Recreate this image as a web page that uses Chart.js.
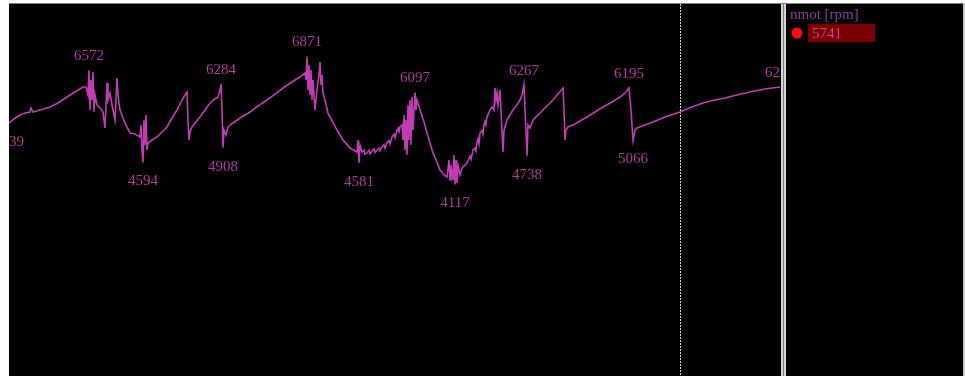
<!DOCTYPE html>
<html>
<head>
<meta charset="utf-8">
<script src="https://cdn.jsdelivr.net/npm/chart.js@4/dist/chart.umd.min.js"></script>
<style>
html,body{margin:0;padding:0;background:#fff;overflow:hidden;}
#wrap{position:absolute;left:0;top:0;width:965px;height:378px;}
</style>
</head>
<body>
<div id="wrap"><canvas id="c" width="965" height="378"></canvas></div>
<script>
// ---- data ----
const seriesName = 'nmot [rpm]';
const cursorValue = 5741;
const cursorTime = 671;
const time = [0,5,11,16,21,22,24,31,41,49,58,66,74,77,79,80,81,82,83,84,85,86,88,91,94,96,98,99,101,103,106,108,109,111,116,121,126,131,132,133,134,135,136,137,138,139,143,148,153,158,163,168,173,176,178,179,180,181,183,187,191,196,201,206,209,211,212,213,214,215,217,219,224,231,241,249,258,266,274,283,291,296,297,298,299,300,301,302,303,304,306,308,310,311,312,313,314,316,319,321,328,334,341,346,348,349,350,351,353,355,356,358,360,361,363,365,366,368,370,371,373,375,376,378,380,381,383,385,386,388,389,390,391,393,394,395,396,397,398,399,400,401,402,403,404,406,407,408,411,415,418,421,424,428,431,435,438,440,441,442,444,445,446,447,448,449,451,453,456,458,461,462,464,466,467,468,469,470,471,473,474,475,476,477,478,481,483,485,486,487,488,489,491,492,494,495,498,501,504,508,511,513,515,516,517,518,519,521,524,529,534,539,544,549,554,555,556,557,559,566,571,578,586,594,603,611,616,620,622,624,626,628,636,644,656,671,683,694,706,716,728,741,756,771];
const rpm = [5439,5527,5613,5656,5677,5763,5677,5720,5785,5871,6000,6107,6215,6215,6043,6572,5720,6365,5935,6538,5677,6043,5828,5763,5677,5333,6301,5935,6086,5828,5505,6408,6043,5720,5441,5226,5204,5140,5398,4860,4594,5505,4968,5613,4860,5011,5075,5140,5247,5355,5548,5720,5935,6043,6107,5505,5075,5247,5355,5462,5570,5720,5871,5957,6000,6150,6284,5720,4908,5290,5183,5355,5441,5548,5677,5806,5935,6064,6193,6322,6430,6516,6365,6871,6150,6688,6043,6581,5935,6365,5720,6150,6473,6753,6258,6473,6086,5935,5656,5570,5290,5075,4903,4839,4817,5075,4581,4968,4817,4860,4770,4796,4850,4775,4839,4880,4810,4860,4900,4840,4925,4980,4900,5011,5060,4990,5140,5200,5120,5290,5330,5250,5355,5398,5075,5613,4860,5505,4753,5828,5075,5935,4968,6000,5290,6097,5720,5935,5720,5462,5226,5011,4796,4602,4430,4323,4279,4645,4215,4538,4215,4753,4117,4645,4150,4538,4323,4473,4538,4581,4731,4660,4860,4900,4840,5032,5100,4990,5226,5280,5200,5398,5480,5400,5570,5720,5785,5720,6193,5935,6086,5828,6150,5720,4817,5290,5505,5613,5720,5828,5935,6043,6267,5720,5290,4738,5398,5333,5505,5613,5720,5828,5935,6064,6193,5720,5075,5290,5355,5419,5484,5570,5677,5785,5892,6000,6086,6195,5720,5066,5290,5333,5398,5462,5570,5677,5785,5871,5935,5978,6043,6107,6172,6215];
const extremaTime = [0,80,134,212,214,298,350,406,446,515,518,620,624,771];
const extremaSide = ['below','above','below','above','below','above','below','above','below','above','below','above','below','above'];
const yMin = 0, yMax = 8000;

// ---- styles ----
const lineColor = '#c23cb4';
const labelColor = '#b23a9c';
const serif = '"Liberation Serif", "Times New Roman", serif';

const frame = {
  id: 'frame',
  beforeDraw(chart) {
    const ctx = chart.ctx;
    const a = chart.chartArea;
    ctx.save();
    ctx.fillStyle = '#ffffff';
    ctx.fillRect(0, 0, chart.width, chart.height);
    ctx.fillStyle = '#000000';
    ctx.fillRect(9, 3, 954, 373);
    ctx.fillStyle = '#808080';
    ctx.fillRect(9, 3, 956, 1);
    ctx.fillStyle = '#c8c8c8';
    ctx.fillRect(963, 3, 2, 373);
    // divider
    ctx.fillStyle = '#d4d4d4';
    ctx.fillRect(a.right + 1, 4, 5, 372);
    ctx.fillStyle = '#7a7a7a';
    ctx.fillRect(a.right + 3, 4, 1, 372);
    // cursor
    const xc = Math.round(chart.scales.x.getPixelForValue(cursorTime)) + 0.5;
    ctx.strokeStyle = '#d8d8d8';
    ctx.lineWidth = 1;
    ctx.setLineDash([2, 1]);
    ctx.beginPath();
    ctx.moveTo(xc, a.top);
    ctx.lineTo(xc, a.bottom);
    ctx.stroke();
    ctx.restore();
  },
  afterDatasetsDraw(chart) {
    const ctx = chart.ctx;
    const a = chart.chartArea;
    const xs = chart.scales.x, ys = chart.scales.y;
    ctx.save();
    ctx.beginPath();
    ctx.rect(a.left, a.top, a.right - a.left, a.bottom - a.top);
    ctx.clip();
    ctx.font = '15px ' + serif;
    ctx.fillStyle = labelColor;
    ctx.textAlign = 'center';
    ctx.textBaseline = 'middle';
    extremaTime.forEach((t, i) => {
      const k = time.indexOf(t);
      const v = rpm[k];
      const px = xs.getPixelForValue(t);
      const py = ys.getPixelForValue(v);
      const dy = extremaSide[i] === 'above' ? -14 : 19;
      ctx.fillText(String(v), px, py + dy);
    });
    ctx.restore();
    // legend panel
    ctx.save();
    const lx = a.right + 10;
    ctx.font = '15px ' + serif;
    ctx.textAlign = 'left';
    ctx.textBaseline = 'alphabetic';
    ctx.fillStyle = '#8a3c9c';
    ctx.fillText(seriesName, lx, 19);
    ctx.fillStyle = '#ff0a0a';
    ctx.beginPath();
    ctx.arc(lx + 7, 33, 5.5, 0, Math.PI * 2);
    ctx.fill();
    ctx.fillStyle = '#7c0000';
    ctx.fillRect(lx + 18, 24, 67, 18);
    ctx.fillStyle = '#c8409a';
    ctx.fillText(String(cursorValue), lx + 22, 38);
    ctx.restore();
  }
};

new Chart(document.getElementById('c'), {
  type: 'line',
  data: {
    datasets: [{
      label: seriesName,
      data: time.map((t, i) => ({x: t, y: rpm[i]})),
      borderColor: lineColor,
      borderWidth: 1.6,
      pointRadius: 0,
      tension: 0,
      fill: false
    }]
  },
  options: {
    responsive: false,
    animation: false,
    devicePixelRatio: 1,
    layout: {padding: {left: 9, top: 4, right: 185, bottom: 2}},
    plugins: {legend: {display: false}, tooltip: {enabled: false}},
    scales: {
      x: {type: 'linear', min: 0, max: 771, display: false},
      y: {min: yMin, max: yMax, display: false}
    }
  },
  plugins: [frame]
});
</script>
</body>
</html>
